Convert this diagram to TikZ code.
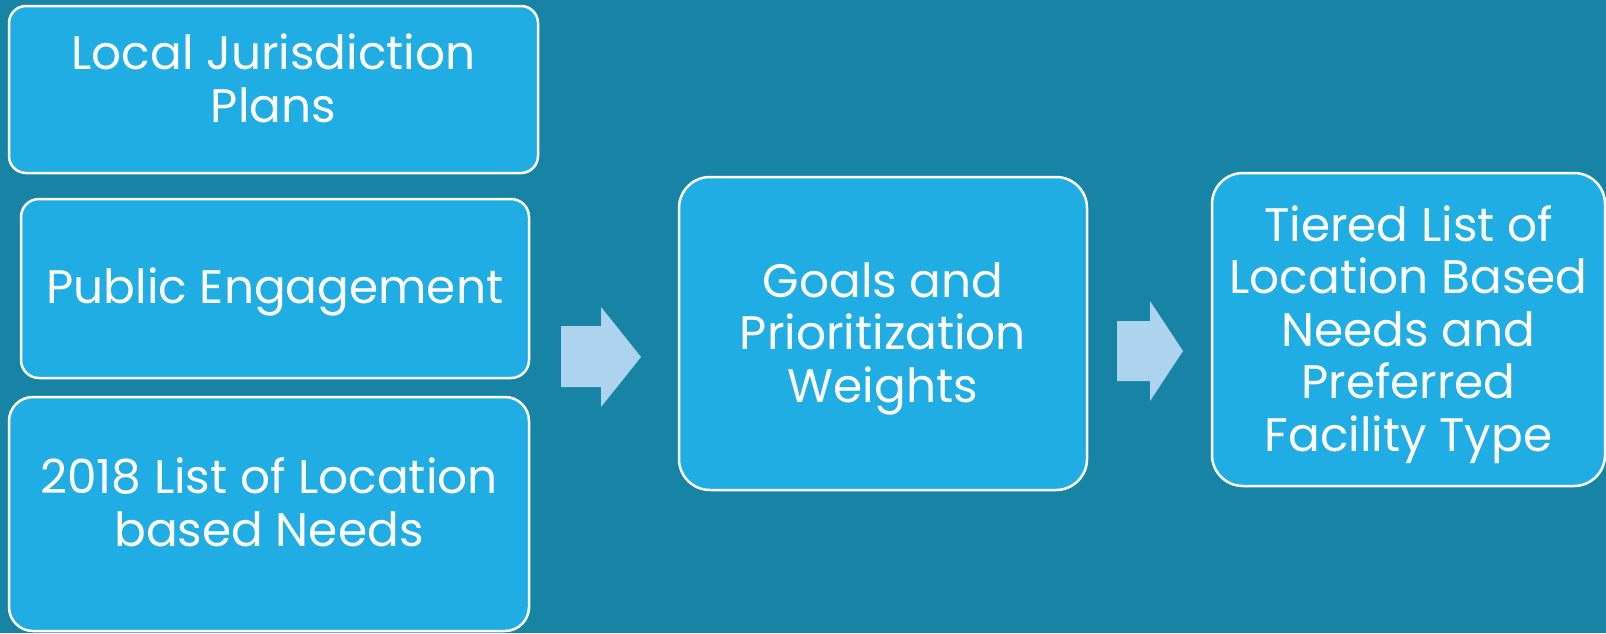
\documentclass[tikz,border=0pt]{standalone}
\usepackage{fontspec}
\setmainfont{Poppins}
\usepackage{tikz}
\usetikzlibrary{positioning}

\definecolor{bgteal}{HTML}{1784A6}
\definecolor{boxblue}{HTML}{1FADE4}
\definecolor{arrowblue}{HTML}{ADD3EF}

\begin{document}
\begin{tikzpicture}[x=1pt,y=-1pt]
\tikzstyle{stage}=[draw=white,line width=2.5pt,fill=boxblue,inner sep=0pt]
\tikzstyle{caption}=[text=white,align=center,inner sep=0pt]
\tikzset{font=\fontsize{47pt}{52.5pt}\selectfont}

        \fill[bgteal] (0,0) rectangle (1606,633);
        \useasboundingbox (0,0) rectangle (1606,633);

        % input column
        \node[stage,minimum width=529pt,minimum height=167pt,rounded corners=17pt]  (plans)  at (273.5,89.5)  {};
        \node[caption,yshift=11pt]  (plans text)  at (plans)  {Local Jurisdiction\\Plans};

        \node[stage,minimum width=508pt,minimum height=179pt,rounded corners=18pt]  (public) at (275,288.5)   {};
        \node[caption,yshift=-3pt]  (public text) at (public) {Public Engagement};

        \node[stage,minimum width=520pt,minimum height=234pt,rounded corners=24pt]  (needs)  at (269,514)     {};
        \node[caption,yshift=12pt]  (needs text)  at (needs)  {2018 List of Location\\based Needs};

        % goals and result
        \node[stage,minimum width=408pt,minimum height=313pt,rounded corners=31pt]  (goals)  at (883,333.5)   {};
        \node[caption,yshift=-5pt]  (goals text)  at (goals)  {Goals and\\Prioritization\\Weights};

        \node[stage,minimum width=393pt,minimum height=313pt,rounded corners=31pt]  (tiered) at (1408.5,329.5) {};
        \node[caption,yshift=-5pt]  (tiered text) at (tiered) {Tiered List of\\Location Based\\Needs and\\Preferred\\Facility Type};

        % block arrows
        \fill[arrowblue] (561,326) -- (601,326) -- (601,307) -- (641,357) -- (601,407) -- (601,387) -- (561,387) -- cycle;
        \fill[arrowblue] (1117,321) -- (1150,321) -- (1150,301) -- (1183,351) -- (1150,401) -- (1150,381) -- (1117,381) -- cycle;

\end{tikzpicture}
\end{document}
